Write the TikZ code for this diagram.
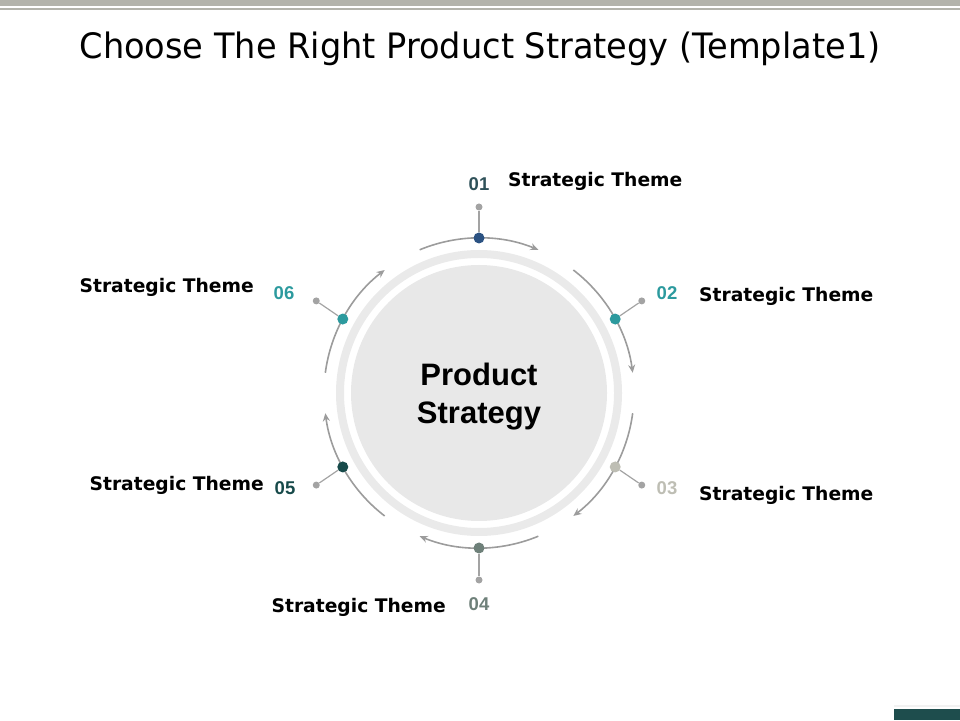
\documentclass[tikz,border=0pt]{standalone}
\usepackage{fontspec}
\usepackage{tikz}
\usetikzlibrary{arrows.meta, positioning}

\newfontfamily\themefont{DejaVu Sans}
\newfontfamily\numfont{Liberation Sans}
\newfontfamily\titlefont[FakeStretch=0.96]{DejaVu Sans}

\definecolor{bandgray}{HTML}{B3B3AB}
\definecolor{arcgray}{HTML}{9C9C9C}
\definecolor{pingray}{HTML}{A3A3A3}
\definecolor{ringgray}{HTML}{EAEAEA}
\definecolor{coregray}{HTML}{E8E8E8}
\definecolor{c1}{HTML}{2B5282}
\definecolor{c2}{HTML}{2C9A9E}
\definecolor{c3}{HTML}{BEBEB4}
\definecolor{c4}{HTML}{6E8079}
\definecolor{c5}{HTML}{174A4A}
\definecolor{n1}{HTML}{2F5159}
\definecolor{footteal}{HTML}{1E4D4D}

\begin{document}
\begin{tikzpicture}[x=1pt, y=1pt,
    dot/.style = {circle, inner sep=0pt, minimum size=11pt},
    pin/.style = {circle, inner sep=0pt, minimum size=7pt, fill=pingray},
    cycle/.style = {draw=arcgray, line width=1.6pt, -{Stealth[length=8pt, width=7pt]}},
    theme/.style = {font=\themefont\bfseries\fontsize{18.7}{22}\selectfont, inner sep=0pt},
    num/.style = {font=\numfont\bfseries\fontsize{18.5}{22}\selectfont, inner sep=0pt}]
  \useasboundingbox (0,0) rectangle (960,720);

  % header and footer bars
  \fill [bandgray] (0,714) rectangle (960,720);
  \fill [bandgray] (0,710) rectangle (960,712);
  \fill [gray!10] (894,13) rectangle (960,15);
  \fill [footteal] (894,0) rectangle (960,11);

  \node (title) [anchor=base, inner sep=0pt, font=\titlefont\fontsize{35}{40}\selectfont]
    at (480,661) {Choose The Right Product Strategy (Template1)};

  % centre
  \coordinate (c) at (479,327);
  \draw [ringgray, line width=8pt] (c) circle (139);
  \fill [coregray] (c) circle (128);
  \node (core) [align=center, font=\numfont\bfseries\fontsize{31}{38}\selectfont]
    at (479,323) {Product\\Strategy};

  % arrows round the circle
  \draw [cycle] ([shift={(c)}]112.5:155) arc (112.5:67.5:155);
  \draw [cycle] ([shift={(c)}]52.5:155) arc (52.5:7.5:155);
  \draw [cycle] ([shift={(c)}]-7.5:155) arc (-7.5:-52.5:155);
  \draw [cycle] ([shift={(c)}]-67.5:155) arc (-67.5:-112.5:155);
  \draw [cycle] ([shift={(c)}]-127.5:155) arc (-127.5:-172.5:155);
  \draw [cycle] ([shift={(c)}]172.5:155) arc (172.5:127.5:155);

  % steps
  \node (d1) [dot, fill=c1] at ([shift={(c)}]90:155) {};
  \node (d2) [dot, fill=c2] at ([shift={(c)}]28.5:155) {};
  \node (d3) [dot, fill=c3] at ([shift={(c)}]-28.5:155) {};
  \node (d4) [dot, fill=c4] at ([shift={(c)}]-90:155) {};
  \node (d5) [dot, fill=c5] at ([shift={(c)}]208.5:155) {};
  \node (d6) [dot, fill=c2] at ([shift={(c)}]151.5:155) {};

  \node (p1) [pin] at ([shift={(c)}]90:186) {};
  \node (p2) [pin] at ([shift={(c)}]29.5:187) {};
  \node (p3) [pin] at ([shift={(c)}]-29.5:187) {};
  \node (p4) [pin] at ([shift={(c)}]-90:187) {};
  \node (p5) [pin] at ([shift={(c)}]209.5:187) {};
  \node (p6) [pin] at ([shift={(c)}]150.5:187) {};

  \path [draw=pingray, line width=1.2pt]
    (d1) edge (p1)
    (d2) edge (p2)
    (d3) edge (p3)
    (d4) edge (p4)
    (d5) edge (p5)
    (d6) edge (p6);

  \node (n1) [num, text=n1] at (479,536) {01};
  \node (n2) [num, text=c2] at (667,427) {02};
  \node (n3) [num, text=c3] at (667,232) {03};
  \node (n4) [num, text=c4] at (479,116) {04};
  \node (n5) [num, text=c5] at (285,232) {05};
  \node (n6) [num, text=c2] at (284,427) {06};

  \node (t1) [theme, anchor=base west] at (508,533) {Strategic Theme};
  \node (t2) [theme, anchor=base west] at (699,418) {Strategic Theme};
  \node (t3) [theme, anchor=base west] at (699,219) {Strategic Theme};
  \node (t4) [theme, anchor=base east] at (446,108) {Strategic Theme};
  \node (t5) [theme, anchor=base east] at (264,229) {Strategic Theme};
  \node (t6) [theme, anchor=base east] at (254,427) {Strategic Theme};
\end{tikzpicture}
\end{document}
